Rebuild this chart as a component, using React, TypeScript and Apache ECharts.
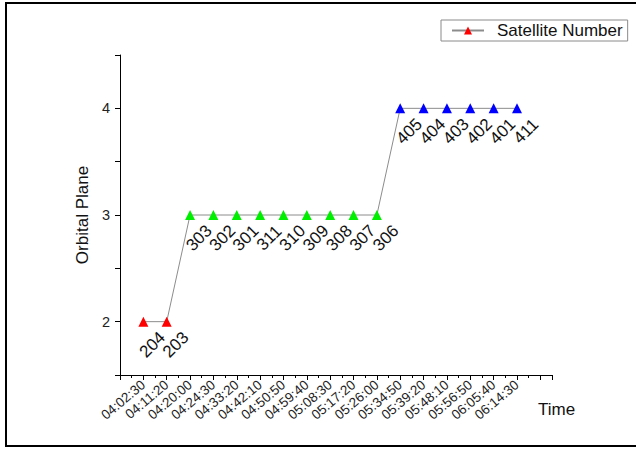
import React, { useEffect, useRef } from "react";
import * as echarts from "echarts";

// Pass times (category labels along the time axis)
const timeLabels = [
  "04:02:30", "04:11:20", "04:20:00", "04:24:30", "04:33:20", "04:42:10",
  "04:50:50", "04:59:40", "05:08:30", "05:17:20", "05:26:00", "05:34:50",
  "05:39:20", "05:48:10", "05:56:50", "06:05:40", "06:14:30",
];

// Orbital plane of each satellite in pass order
const orbitalPlanes = [2, 2, 3, 3, 3, 3, 3, 3, 3, 3, 3, 4, 4, 4, 4, 4, 4];

// Satellite numbers shown next to each point
const satelliteNumbers = [
  "204", "203", "303", "302", "301", "311", "310", "309", "308", "307", "306",
  "405", "404", "403", "402", "401", "411",
];

// Marker colour per orbital plane
const planeColors: Record<number, string> = {
  2: "#ff0000",
  3: "#00ee00",
  4: "#0000ff",
};

const FONT = "'Liberation Sans', Arial, sans-serif";

export default function App() {
  const ref = useRef<HTMLDivElement>(null);

  useEffect(() => {
    if (!ref.current) return;
    const chart = echarts.init(ref.current, null, { renderer: "svg" });

    const data = orbitalPlanes.map((p, i) => ({
      value: [i, p],
      name: satelliteNumbers[i],
      itemStyle: { color: planeColors[p] },
    }));

    chart.setOption({
      animation: false,
      backgroundColor: "#ffffff",
      textStyle: { fontFamily: FONT },
      grid: { left: 120, right: 84, top: 55, bottom: 74 },
      legend: {
        left: 441,
        top: 20,
        padding: [2, 5, 2, 10],
        itemWidth: 32,
        itemHeight: 10,
        borderColor: "#8a8a8a",
        borderWidth: 1,
        textStyle: { fontSize: 17, color: "#111", fontFamily: FONT, padding: [0, 0, 0, 8] },
        data: ["Satellite Number"],
      },
      xAxis: {
        type: "value",
        min: -1,
        max: 17.5,
        interval: 1,
        name: "Time",
        nameLocation: "end",
        nameGap: -14,
        nameTextStyle: {
          fontSize: 17,
          color: "#111",
          fontFamily: FONT,
          verticalAlign: "top",
          padding: [26, 0, 0, 0],
        },
        splitLine: { show: false },
        axisLine: { onZero: false, lineStyle: { color: "#000", width: 1 } },
        axisTick: { length: 5, lineStyle: { color: "#000" } },
        minorTick: { show: true, splitNumber: 2, length: 3, lineStyle: { color: "#000" } },
        axisLabel: {
          rotate: 40,
          fontSize: 13.5,
          color: "#222",
          margin: 8,
          fontFamily: FONT,
          formatter: (v: number) =>
            Number.isInteger(v) && v >= 0 && v < timeLabels.length ? timeLabels[v] : "",
        },
      },
      yAxis: {
        type: "value",
        min: 1.5,
        max: 4.5,
        interval: 0.5,
        name: "Orbital Plane",
        nameLocation: "middle",
        nameGap: 26,
        nameTextStyle: { fontSize: 17, color: "#111", fontFamily: FONT },
        splitLine: { show: false },
        axisLine: { show: true, onZero: false, lineStyle: { color: "#000", width: 1 } },
        axisTick: { show: true, length: 5, lineStyle: { color: "#000" } },
        axisLabel: {
          fontSize: 14.5,
          color: "#222",
          margin: 10,
          fontFamily: FONT,
          formatter: (v: number) => (Number.isInteger(v) ? String(v) : ""),
        },
      },
      graphic: [
        {
          type: "rect",
          silent: true,
          z: -10,
          shape: { x: 6, y: 3, width: 700, height: 443 },
          style: { fill: "none", stroke: "#000", lineWidth: 2 },
        },
      ],
      series: [
        {
          name: "Satellite Number",
          type: "line",
          symbol: "triangle",
          symbolSize: 10,
          itemStyle: { color: "#ff0000" },
          lineStyle: { color: "#8c8c8c", width: 1 },
          label: {
            show: true,
            position: [14, 28],
            align: "center",
            verticalAlign: "middle",
            rotate: 45,
            fontSize: 17,
            color: "#111",
            fontFamily: FONT,
            formatter: (p: any) => p.name,
          },
          data,
        },
      ],
    });

    return () => chart.dispose();
  }, []);

  return (
    <div
      ref={ref}
      style={{ position: "fixed", left: 0, top: 0, width: 636, height: 449 }}
    />
  );
}
